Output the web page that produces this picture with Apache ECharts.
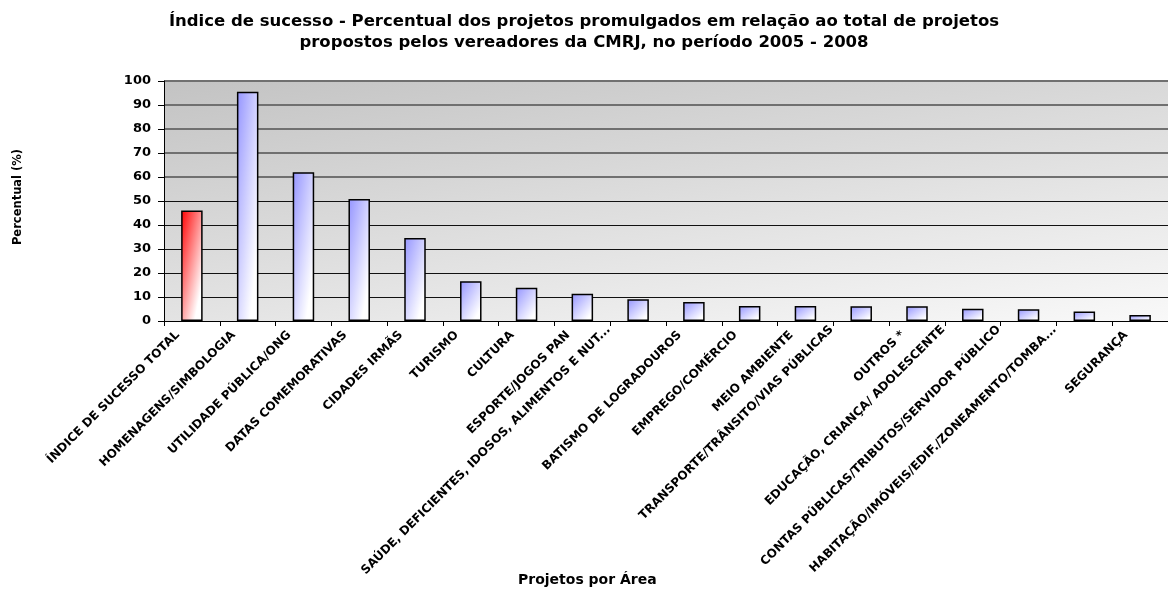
<!DOCTYPE html>
<html>
<head>
<meta charset="utf-8">
<script src="https://cdn.jsdelivr.net/npm/echarts@6/dist/echarts.min.js"></script>
<style>html,body{margin:0;padding:0;background:#fff;}#c{width:1168px;height:589px;}</style>
</head>
<body>
<div id="c"></div>
<script>
var categories = [
  "ÍNDICE DE SUCESSO TOTAL",
  "HOMENAGENS/SIMBOLOGIA",
  "UTILIDADE PÚBLICA/ONG",
  "DATAS COMEMORATIVAS",
  "CIDADES IRMÃS",
  "TURISMO",
  "CULTURA",
  "ESPORTE/JOGOS PAN",
  "SAÚDE, DEFICIENTES, IDOSOS, ALIMENTOS E NUT...",
  "BATISMO DE LOGRADOUROS",
  "EMPREGO/COMÉRCIO",
  "MEIO AMBIENTE",
  "TRANSPORTE/TRÂNSITO/VIAS PÚBLICAS",
  "OUTROS *",
  "EDUCAÇÃO, CRIANÇA/ ADOLESCENTE",
  "CONTAS PÚBLICAS/TRIBUTOS/SERVIDOR PÚBLICO",
  "HABITAÇÃO/IMÓVEIS/EDIF./ZONEAMENTO/TOMBA...",
  "SEGURANÇA"
];
var values = [46, 95.5, 62, 50.8, 34.6, 16.6, 13.9, 11.4, 9.1, 7.9, 6.3, 6.3, 6.1, 6.1, 5.1, 4.9, 4.0, 2.5];
var yTicks = [0, 10, 20, 30, 40, 50, 60, 70, 80, 90, 100];

var titleText = "Índice de sucesso - Percentual dos projetos promulgados em relação ao total de projetos\npropostos pelos vereadores da CMRJ, no período 2005 - 2008";
var xName = "Projetos por Área";
var yName = "Percentual (%)";

var FONT = "DejaVu Sans";
var LONG = 28;

function barGrad(c0, value) {
  var W = 22, H = Math.max(value * 2.4, 1);
  var a = 0.6, b = 0.6;
  var gx = a / W, gy = b / H, g2 = gx * gx + gy * gy;
  return new echarts.graphic.LinearGradient(0, 0, (gx / g2) / W, (gy / g2) / H, [
    { offset: 0, color: c0 },
    { offset: 1, color: '#ffffff' }
  ]);
}

var chart = echarts.init(document.getElementById('c'), null, { renderer: 'canvas' });

var lowerColors = yTicks.map(function (v) { return v <= 50 ? '#111111' : 'rgba(0,0,0,0)'; });
var upperColors = yTicks.map(function (v) { return v > 50 ? '#707070' : 'rgba(0,0,0,0)'; });

var labelBase = { interval: 0, rotate: 45, fontFamily: FONT, fontWeight: 'bold', fontSize: 12, color: '#000' };

chart.setOption({
  animation: false,
  backgroundColor: '#ffffff',
  title: {
    text: titleText,
    left: 'center',
    top: 6,
    textStyle: { fontFamily: FONT, fontWeight: 'bold', fontSize: 16.5, color: '#000', lineHeight: 21 }
  },
  grid: {
    left: 164, top: 81, width: 1010, height: 240,
    show: true,
    borderWidth: 0,
    backgroundColor: new echarts.graphic.LinearGradient(0, 0, 0.061, 1.625, [
      { offset: 0, color: '#c3c3c3' },
      { offset: 1, color: '#f9f9f9' }
    ])
  },
  xAxis: [{
    type: 'category',
    data: categories,
    position: 'bottom',
    axisLine: { lineStyle: { color: '#000', width: 1 } },
    axisTick: { show: true, length: 5, alignWithLabel: false, lineStyle: { color: '#000' } },
    axisLabel: Object.assign({}, labelBase, {
      margin: -2,
      padding: [0, 20, 0, 0],
      formatter: function (v) { return v.length > LONG ? '' : v; }
    }),
    splitLine: { show: false }
  }, {
    type: 'category',
    data: categories,
    position: 'bottom',
    offset: 0,
    axisLine: { show: false },
    axisTick: { show: false },
    axisLabel: Object.assign({}, labelBase, {
      margin: -23,
      padding: [0, 42, 0, 0],
      formatter: function (v) { return v.length > LONG ? v : ''; }
    }),
    splitLine: { show: false }
  }],
  yAxis: [{
    type: 'value',
    min: 0, max: 100, interval: 10,
    axisLine: { show: true, lineStyle: { color: '#000', width: 1 } },
    axisTick: { show: true, length: 6, lineStyle: { color: '#000' } },
    axisLabel: { margin: 13, fontFamily: FONT, fontWeight: 'bold', fontSize: 13, color: '#000' },
    splitLine: { show: true, lineStyle: { color: lowerColors, width: 1 } }
  }, {
    type: 'value',
    position: 'left',
    min: 0, max: 100, interval: 10,
    axisLine: { show: false },
    axisTick: { show: false },
    axisLabel: { show: false },
    splitLine: { show: true, lineStyle: { color: upperColors, width: 2 } }
  }],
  graphic: [
    {
      type: 'text',
      left: 588 - 70, top: 573,
      style: { text: xName, fontFamily: FONT, fontWeight: 'bold', fontSize: 14, fill: '#000' }
    },
    {
      type: 'text',
      x: 18, y: 197,
      rotation: Math.PI / 2,
      style: { text: yName, fontFamily: FONT, fontWeight: 'bold', fontSize: 11.5, fill: '#000', align: 'center', verticalAlign: 'middle' }
    }
  ],
  series: [{
    type: 'bar',
    xAxisIndex: 0,
    yAxisIndex: 0,
    barWidth: 21.5,
    data: values.map(function (v, i) {
      return {
        value: v,
        itemStyle: { color: barGrad(i === 0 ? '#ff0000' : '#9494ff', v) }
      };
    }),
    itemStyle: { borderColor: '#000', borderWidth: 1.5 }
  }]
});
</script>
</body>
</html>
